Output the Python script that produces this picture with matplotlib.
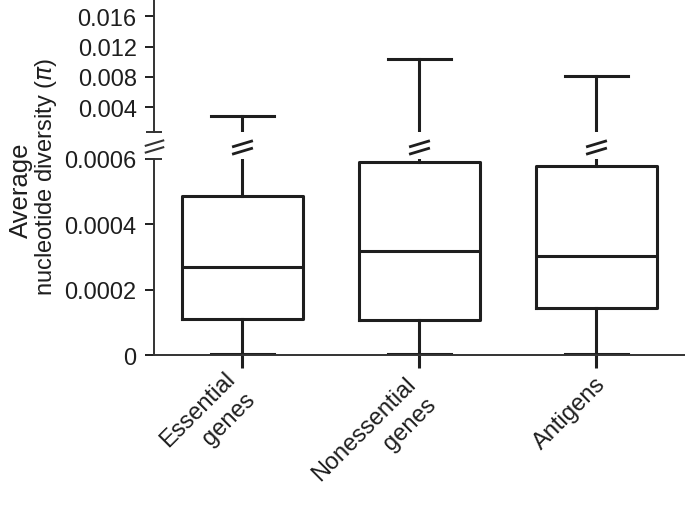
import matplotlib
matplotlib.use('Agg')
import matplotlib.pyplot as plt
from matplotlib.path import Path
from matplotlib import transforms

plt.rcParams['font.family'] = ['Liberation Sans', 'DejaVu Sans']
plt.rcParams['mathtext.fontset'] = 'dejavusans'

# box statistics
categories = ['Essential\ngenes', 'Nonessential\ngenes', 'Antigens']
whislo = [0.000006, 0.000006, 0.000006]
q1 = [0.000110, 0.000107, 0.000146]
med = [0.000269, 0.000318, 0.000304]
q3 = [0.000487, 0.000592, 0.000578]
whishi = [0.0029, 0.0103, 0.0081]

top_ticks = [0.004, 0.008, 0.012, 0.016]
top_labels = ['0.004', '0.008', '0.012', '0.016']
bot_ticks = [0, 0.0002, 0.0004, 0.0006]
bot_labels = ['0', '0.0002', '0.0004', '0.0006']

stats = []
for i, name in enumerate(categories):
    stats.append(dict(label=name, whislo=whislo[i], q1=q1[i], med=med[i],
                      q3=q3[i], whishi=whishi[i], fliers=[]))
pos = [1, 2, 3]
ink = '#1e1e1e'

fig = plt.figure(figsize=(6.85, 5.06), dpi=100)
ax_top = fig.add_axes([0.2248, 0.7372, 0.7752, 0.2628])
ax_bot = fig.add_axes([0.2248, 0.2955, 0.7752, 0.3883])

lw = 2.2
style = dict(positions=pos, widths=0.68, showfliers=False, patch_artist=False,
             boxprops=dict(color=ink, linewidth=lw),
             whiskerprops=dict(color=ink, linewidth=lw),
             capprops=dict(color=ink, linewidth=lw),
             medianprops=dict(color=ink, linewidth=lw),
             capwidths=0.36)
for ax in (ax_top, ax_bot):
    parts = ax.bxp(stats, **style)
    if ax is ax_top:
        # only the upper whisker reaches the upper panel
        for art in parts['boxes'] + parts['medians'] + parts['whiskers'][0::2] + parts['caps'][0::2]:
            art.set_visible(False)
    ax.set_xlim(0.5, 3.5)
    for s in ('top', 'right'):
        ax.spines[s].set_visible(False)
    ax.spines['left'].set_linewidth(1.4)
    ax.spines['bottom'].set_linewidth(1.4)
    ax.spines['left'].set_color('#333333')
    ax.spines['bottom'].set_color('#333333')
    ax.tick_params(axis='y', direction='out', length=6.5, width=1.4,
                   pad=6, labelsize=17, colors=ink)

ax_top.set_ylim(0.00074, 0.01828)
ax_top.set_yticks(top_ticks)
ax_top.set_yticklabels(top_labels)
ax_top.spines['bottom'].set_visible(False)
ax_top.tick_params(axis='x', bottom=False, labelbottom=False)

ax_bot.set_ylim(0, 0.0006)
ax_bot.set_yticks(bot_ticks)
ax_bot.set_yticklabels(bot_labels)
ax_bot.set_xticks(pos)
ax_bot.set_xticklabels(categories, rotation=45, ha='right', va='top',
                       rotation_mode='anchor', multialignment='right',
                       linespacing=1.45)
ax_bot.tick_params(axis='x', direction='out', length=9, width=2.2,
                   pad=2.5, labelsize=17, colors=ink)
# nudge the rotated labels (pixels)
nudges = [(-19, 4), (-15, -1), (-2, -1)]
for lab, (dx, dy) in zip(ax_bot.get_xticklabels(), nudges):
    shift = transforms.ScaledTranslation(dx / 100, dy / 100, fig.dpi_scale_trans)
    lab.set_transform(lab.get_transform() + shift)

# end caps of the broken axis
ax_top.plot([0.5], [0], marker='_', ms=11, mew=1.4, color='#333333',
            transform=transforms.blended_transform_factory(ax_top.transData, ax_top.transAxes),
            clip_on=False)
ax_bot.plot([0.5], [1], marker='_', ms=11, mew=1.4, color='#333333',
            transform=transforms.blended_transform_factory(ax_bot.transData, ax_bot.transAxes),
            clip_on=False)

# break marks //
brk = Path([(-1, 0.05), (1, 0.65), (-1, -0.65), (1, -0.05)],
           [Path.MOVETO, Path.LINETO, Path.MOVETO, Path.LINETO])
tr = transforms.blended_transform_factory(ax_bot.transData, ax_bot.transAxes)
ax_bot.plot([0.5], [1.065], marker=brk, ms=14, mew=1.5, mfc='none',
            color='#333333', linestyle='none', transform=tr, clip_on=False)
ax_bot.plot(pos, [1.06] * 3, marker=brk, ms=15, mew=2.0, mfc='none',
            color=ink, linestyle='none', transform=tr, clip_on=False)

fig.text(0.031, 0.6245, 'Average', rotation=90, ha='center', va='center',
         fontsize=18.5, color=ink)
fig.text(0.067, 0.650, 'nucleotide diversity ($\\pi$)', rotation=90,
         ha='center', va='center', fontsize=17, color=ink)

fig.savefig('out.png', dpi=100)
